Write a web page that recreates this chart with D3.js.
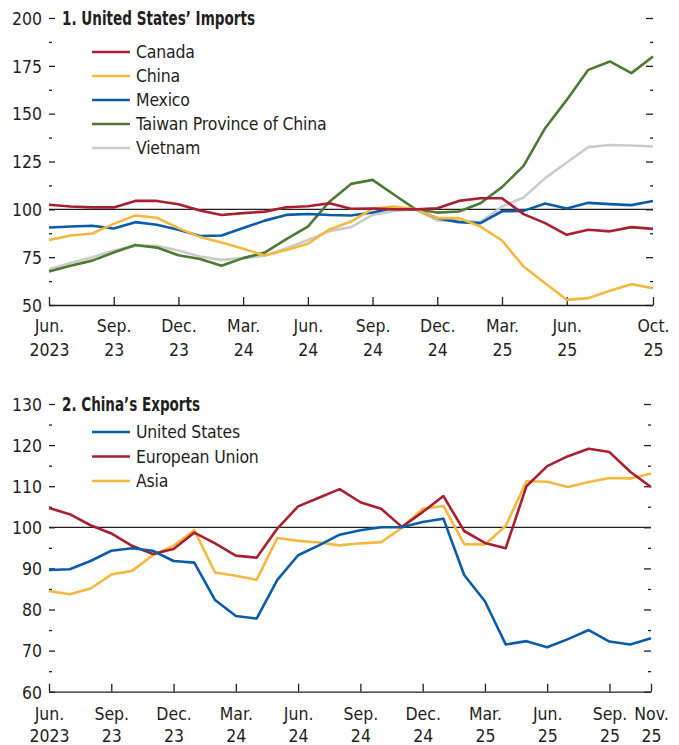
<!DOCTYPE html>
<html>
<head>
<meta charset="utf-8">
<script src="https://cdn.jsdelivr.net/npm/d3@7"></script>
<style>
  body { margin: 0; background: #fff; }
  svg text { font-family: "DejaVu Sans Condensed", "DejaVu Sans", sans-serif; font-stretch: condensed; fill: #231f20; }
  .tick line { stroke: #231f20; stroke-width: 1.3; }
  .domain { stroke: #231f20; stroke-width: 1.3; }
</style>
</head>
<body>
<svg id="chart"></svg>
<script>
var svgWidth = 679;
var svgHeight = 745;

// panel 1: US imports, Jun 2023 - Oct 2025
var usCanada = [102.4,101.5,101,101,104.4,104.4,102.7,99.4,97,98,98.8,101.1,101.6,103.2,100.3,100.4,100,100,100.6,104.4,105.8,105.8,97.5,92.8,86.7,89.3,88.5,90.7,89.8];
var usChina = [84,86.3,87.4,92.4,96.8,95.6,90.2,85.5,82.7,79.4,75.9,78.8,82,89.5,93.6,100.3,101.5,100,95.4,95.4,91,83.7,70.1,61.4,52.7,53.6,57.4,60.9,58.8];
var usMexico = [90.5,91,91.4,90,93.3,91.9,89.3,86.1,86.3,90.2,94.1,97.1,97.6,97,96.8,98.3,100.8,100,95.4,93.3,92.8,99,99.2,103,100.4,103.4,102.7,102.2,104.4];
var usTaiwan = [67.5,70.5,73.2,77.4,81.4,80,76,74,70.5,74.5,77.4,84.4,91,104,113.3,115.4,107.6,100,98.3,98.9,103.2,111.6,122.7,142.4,157.2,172.9,177.3,171.2,179.9];
var usVietnam = [68.7,71.9,75,78.5,80.9,80.9,78.5,75.3,73.6,74.5,75.7,79.7,84,88.6,90.7,97.1,99.2,100,94.1,94.1,93.3,101.5,106.2,116.3,124.5,132.5,133.6,133.4,132.8];
var ticks1 = [0,3,6,9,12,15,18,21,24,28];
var tickLabels1 = [["Jun.","2023"],["Sep.","23"],["Dec.","23"],["Mar.","24"],["Jun.","24"],["Sep.","24"],["Dec.","24"],["Mar.","25"],["Jun.","25"],["Oct.","25"]];

// panel 2: China exports, Jun 2023 - Nov 2025
var cnUS = [89.6,89.8,91.8,94.3,94.9,94.3,91.8,91.4,82.3,78.4,77.8,87.2,93.2,95.6,98.2,99.3,100,100,101.3,102.1,88.4,82,71.5,72.3,70.8,72.8,75,72.2,71.5,73];
var cnEU = [104.7,103.2,100.5,98.5,95.5,93.5,94.7,98.7,96.1,93.1,92.6,99.7,105.1,107.2,109.3,106.1,104.5,100.1,103.7,107.6,99.1,96.2,94.9,110,114.9,117.3,119.1,118.3,113.5,109.8];
var cnAsia = [84.5,83.7,85.1,88.5,89.4,93.2,95.5,99.3,89,88.2,87.2,97.4,96.7,96.3,95.6,96.1,96.4,99.9,104.5,105.2,95.9,95.8,100.3,111.2,111.1,109.8,111,112,111.9,113.1];
var ticks2 = [0,3,6,9,12,15,18,21,24,27,29];
var tickLabels2 = [["Jun.","2023"],["Sep.","23"],["Dec.","23"],["Mar.","24"],["Jun.","24"],["Sep.","24"],["Dec.","24"],["Mar.","25"],["Jun.","25"],["Sep.","25"],["Nov.","25"]];

var RED = "#a8202f", YELLOW = "#f3b840", BLUE = "#0b5ca7", GREEN = "#4c7a34", GREY = "#cbcbcb";

var svg = d3.select("#chart")
  .attr("width", svgWidth)
  .attr("height", svgHeight);

function drawPanel(cfg) {
  var g = svg.append("g");

  var x = d3.scaleLinear()
    .domain([0, cfg.n - 1])
    .range([cfg.left, cfg.right]);

  var y = d3.scaleLinear()
    .domain(cfg.yDomain)
    .range([cfg.bottom, cfg.top]);

  var major = d3.range(cfg.yDomain[0], cfg.yDomain[1] + 0.1, cfg.yStep);
  var minor = d3.range(cfg.yDomain[0] + cfg.yStep / 2, cfg.yDomain[1], cfg.yStep);

  // left axis, ticks pointing in
  var leftAxis = d3.axisLeft(y).tickValues(major).tickSizeInner(-6).tickSizeOuter(0).tickPadding(7);
  var la = g.append("g").attr("transform", `translate(${cfg.left},0)`).call(leftAxis);
  la.select(".domain").remove();
  la.selectAll("text").style("font-size", "17.5px").attr("dy", "0.36em");

  var leftMinor = d3.axisLeft(y).tickValues(minor).tickSizeInner(-3).tickSizeOuter(0).tickFormat("");
  g.append("g").attr("transform", `translate(${cfg.left},0)`).call(leftMinor).select(".domain").remove();

  // right axis
  var rightAxis = d3.axisRight(y).tickValues(major).tickSizeInner(-7).tickSizeOuter(0).tickFormat("");
  g.append("g").attr("transform", `translate(${cfg.right},0)`).call(rightAxis).select(".domain").remove();
  var rightMinor = d3.axisRight(y).tickValues(minor).tickSizeInner(-3).tickSizeOuter(0).tickFormat("");
  g.append("g").attr("transform", `translate(${cfg.right},0)`).call(rightMinor).select(".domain").remove();

  // x axis
  var bottomAxis = d3.axisBottom(x).tickValues(cfg.ticks).tickSizeInner(-8).tickSizeOuter(0).tickFormat("");
  var xa = g.append("g").attr("transform", `translate(0,${cfg.bottom})`).call(bottomAxis);
  xa.selectAll(".tick").each(function(d, i) {
    var t = d3.select(this).append("text")
      .attr("text-anchor", "middle")
      .style("font-size", "17.5px");
    t.append("tspan").attr("x", 0).attr("y", cfg.lab1).text(cfg.tickLabels[i][0]);
    t.append("tspan").attr("x", 0).attr("y", cfg.lab2).text(cfg.tickLabels[i][1]);
  });

  // reference line at 100
  g.append("line")
    .attr("x1", cfg.left).attr("x2", cfg.right)
    .attr("y1", y(100)).attr("y2", y(100))
    .attr("stroke", "#231f20").attr("stroke-width", 1.3);

  var line = d3.line()
    .x((d, i) => x(i))
    .y(d => y(d));

  // draw back to front
  cfg.series.slice().reverse().forEach(function(s) {
    g.append("path")
      .datum(s.values)
      .attr("fill", "none")
      .attr("stroke", s.color)
      .attr("stroke-width", 2.6)
      .attr("stroke-linejoin", "round")
      .attr("d", line);
  });

  // title
  g.append("text")
    .attr("x", 62)
    .attr("y", cfg.top)
    .attr("dy", "0.36em")
    .attr("textLength", cfg.titleWidth)
    .attr("lengthAdjust", "spacingAndGlyphs")
    .style("font-size", "19px")
    .style("font-weight", "bold")
    .text(cfg.title);

  // legend
  var leg = g.selectAll(".leg")
    .data(cfg.series)
    .enter()
    .append("g")
    .attr("transform", (d, i) => `translate(92,${cfg.legY + i * cfg.legStep})`);
  leg.append("line")
    .attr("x1", 0).attr("x2", 38)
    .attr("stroke", d => d.color)
    .attr("stroke-width", 2.6);
  leg.append("text")
    .attr("x", 44)
    .attr("dy", "0.36em")
    .style("font-size", "17.5px")
    .style("letter-spacing", "-0.2px")
    .text(d => d.name);
}

drawPanel({
  n: 29, left: 49, right: 653, top: 18, bottom: 305,
  yDomain: [50, 200], yStep: 25,
  ticks: ticks1, tickLabels: tickLabels1, lab1: 27, lab2: 51,
  title: "1. United States\u2019 Imports", titleWidth: 193,
  legY: 52, legStep: 24,
  series: [
    {name: "Canada", color: RED, values: usCanada},
    {name: "China", color: YELLOW, values: usChina},
    {name: "Mexico", color: BLUE, values: usMexico},
    {name: "Taiwan Province of China", color: GREEN, values: usTaiwan},
    {name: "Vietnam", color: GREY, values: usVietnam}
  ]
});

drawPanel({
  n: 30, left: 49, right: 651, top: 404, bottom: 691.7,
  yDomain: [60, 130], yStep: 10,
  ticks: ticks2, tickLabels: tickLabels2, lab1: 28, lab2: 50,
  title: "2. China\u2019s Exports", titleWidth: 138,
  legY: 432, legStep: 24.5,
  series: [
    {name: "United States", color: BLUE, values: cnUS},
    {name: "European Union", color: RED, values: cnEU},
    {name: "Asia", color: YELLOW, values: cnAsia}
  ]
});
</script>
</body>
</html>
